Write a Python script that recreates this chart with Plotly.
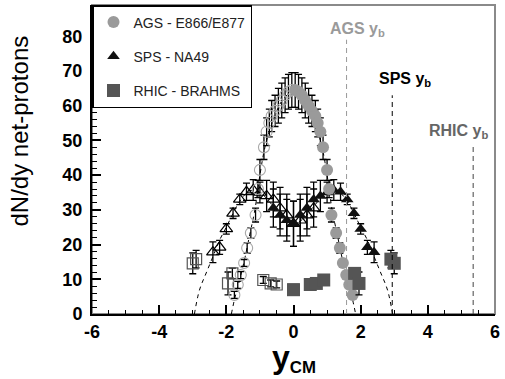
import plotly.graph_objects as go

# ---- AGS E866/E877 (measured, forward hemisphere) ----
ags_y = [0.05, 0.15, 0.25, 0.35, 0.45, 0.55, 0.65, 0.72, 0.80, 0.88,
         1.00, 1.06, 1.13, 1.27, 1.38, 1.47, 1.57, 1.66, 1.76]
ags_dndy = [64.5, 64.0, 63.0, 61.5, 60.0, 58.5, 57.0, 55.0, 52.5, 48.0,
            41.5, 36.0, 28.5, 23.3, 19.0, 14.7, 11.2, 8.4, 5.5]
ags_err = [5.0, 5.0, 5.0, 5.0, 5.0, 4.5, 4.5, 4.0, 4.0, 3.5,
           3.0, 2.5, 2.0, 1.5, 1.5, 1.0, 1.0, 1.0, 1.0]

# ---- SPS NA49 ----
na49_y = [-0.6, -0.4, -0.2, 0.0, 0.2, 0.4, 0.6, 0.8, 1.0, 1.2,
          1.4, 1.6, 1.8, 2.0, 2.2, 2.4]
na49_dndy = [30.5, 28.5, 27.0, 26.0, 28.5, 30.5, 33.0, 34.0, 35.0, 35.7,
             35.2, 33.0, 29.0, 24.5, 19.2, 17.8]
na49_err = [5.5, 6.0, 6.0, 6.5, 6.0, 6.0, 5.0, 4.5, 3.0, 3.0,
            2.5, 1.5, 1.5, 1.5, 2.0, 3.0]

# ---- RHIC BRAHMS ----
brahms_y = [0.0, 0.5, 0.68, 0.9, 1.82, 1.95, 2.9, 3.0]
brahms_dndy = [7.0, 8.5, 8.8, 9.8, 11.7, 8.8, 15.8, 14.6]
brahms_err = [1.0, 1.0, 1.0, 1.0, 1.5, 3.3, 2.5, 3.0]

# ---- fitted shapes (dashed) ----
ags_fit_y = [-1.85, -1.75, -1.6, -1.45, -1.3, -1.15, -1.0, -0.85, -0.6, -0.3, 0.0,
             0.3, 0.6, 0.85, 1.0, 1.15, 1.3, 1.45, 1.6, 1.75, 1.85]
ags_fit_dndy = [0.0, 4.5, 10.0, 16.0, 23.0, 30.0, 40.0, 48.0, 56.0, 62.0, 64.0,
                62.0, 56.0, 48.0, 40.0, 30.0, 23.0, 16.0, 10.0, 4.5, 0.0]
sps_fit_y = [-2.95, -2.8, -2.6, -2.4, -2.2, -2.0, -1.8, -1.6, -1.3, -1.0, -0.6, -0.3, 0.0,
             0.3, 0.6, 1.0, 1.3, 1.6, 1.8, 2.0, 2.2, 2.4, 2.6, 2.8, 2.95]
sps_fit_dndy = [0.0, 6.9, 11.8, 16.5, 21.3, 25.0, 29.0, 32.5, 35.5, 35.0, 31.0, 27.5, 26.0,
                27.5, 31.0, 35.0, 35.5, 32.5, 29.0, 25.0, 21.3, 16.5, 11.8, 6.9, 0.0]

# ---- beam rapidities ----
beam_names = ["AGS", "SPS", "RHIC"]
beam_rapidity = [1.58, 2.94, 5.35]

x_ticks = [-6, -4, -2, 0, 2, 4, 6]
y_ticks = [0, 10, 20, 30, 40, 50, 60, 70, 80]

AGS_GRAY = "#9a9a9a"
RHIC_GRAY = "#555555"
FONT = "Liberation Sans, Arial"


def mirror(vals):
    return [-v for v in vals]


def errs(e):
    return dict(type="data", array=e, visible=True, color="black",
                thickness=1.3, width=3.5)


fig = go.Figure()

# dashed fit curves
for fx, fy in ((ags_fit_y, ags_fit_dndy), (sps_fit_y, sps_fit_dndy)):
    fig.add_trace(go.Scatter(x=fx, y=fy, mode="lines",
                             line=dict(color="black", width=1, dash="4px,4px",
                                       shape="spline"),
                             showlegend=False, hoverinfo="skip"))

# reflected (open) points
fig.add_trace(go.Scatter(x=mirror(brahms_y), y=brahms_dndy, error_y=errs(brahms_err),
                         mode="markers", showlegend=False,
                         marker=dict(symbol="square-open", size=11, color=RHIC_GRAY,
                                     line=dict(width=1.2, color=RHIC_GRAY))))
fig.add_trace(go.Scatter(x=mirror(na49_y), y=na49_dndy, error_y=errs(na49_err),
                         mode="markers", showlegend=False,
                         marker=dict(symbol="triangle-up-open", size=11, color="black",
                                     line=dict(width=1.2, color="black"))))
fig.add_trace(go.Scatter(x=mirror(ags_y), y=ags_dndy, error_y=errs(ags_err),
                         mode="markers", showlegend=False,
                         marker=dict(symbol="circle-open", size=11, color="#a8a8a8",
                                     line=dict(width=1.1, color="#a8a8a8"))))

# measured (filled) points
fig.add_trace(go.Scatter(x=na49_y, y=na49_dndy, error_y=errs(na49_err),
                         mode="markers", name="SPS - NA49", legendgroup="b",
                         legendrank=2,
                         marker=dict(symbol="triangle-up", size=11, color="#111111")))
fig.add_trace(go.Scatter(x=ags_y, y=ags_dndy, error_y=errs(ags_err),
                         mode="markers", name="AGS - E866/E877", legendgroup="a",
                         legendrank=1,
                         marker=dict(symbol="circle", size=12, color=AGS_GRAY)))
fig.add_trace(go.Scatter(x=brahms_y, y=brahms_dndy, error_y=errs(brahms_err),
                         mode="markers", name="RHIC - BRAHMS", legendgroup="c",
                         legendrank=3,
                         marker=dict(symbol="square", size=13, color=RHIC_GRAY)))

# beam rapidity markers
line_tops = [79, 63, 49]
label_pos = [(1.92, 82.0), (3.31, 67.5), (4.9, 52.5)]
label_cols = [AGS_GRAY, "black", "#666666"]
line_cols = [AGS_GRAY, "black", "#444444"]
for name, yb, top, (lx, ly), col, lcol in zip(beam_names, beam_rapidity, line_tops,
                                             label_pos, label_cols, line_cols):
    fig.add_shape(type="line", x0=yb, x1=yb, y0=0, y1=top, xref="x", yref="y",
                  line=dict(color=lcol, width=1, dash="5px,4px"))
    fig.add_annotation(x=lx, y=ly, xref="x", yref="y", showarrow=False,
                       text=f"<b>{name} y<sub>b</sub></b>",
                       font=dict(family=FONT, size=16, color=col))

# plot frame
fig.add_shape(type="rect", xref="x domain", yref="y domain", x0=0, x1=1, y0=0, y1=1,
              line=dict(color="#8a8a8a", width=2), layer="below")

# axis titles
fig.add_annotation(xref="paper", yref="paper", x=-0.18, y=0.592, textangle=-90,
                   xanchor="center", yanchor="middle",
                   text="dN/dy net-protons", showarrow=False,
                   font=dict(family=FONT, size=24, color="black"))
fig.add_annotation(xref="paper", yref="paper", x=0.5, y=-0.075, yanchor="top",
                   xanchor="center",
                   text='<b><span style="font-size:32px">y</span><sub>CM</sub></b>',
                   showarrow=False,
                   font=dict(family=FONT, size=24, color="black"))

tickfont = dict(family=FONT, size=18, color="black")

fig.update_xaxes(range=[-6, 6], tickvals=x_ticks,
                 ticktext=[f"<b>{v}</b>" for v in x_ticks],
                 ticks="inside", ticklen=9, tickwidth=1.5, tickcolor="black",
                 minor=dict(dtick=0.5, ticks="inside", ticklen=4.5, tickwidth=1.2,
                            tickcolor="black"),
                 showline=True, linecolor="black", linewidth=2,
                 showgrid=False, zeroline=False, tickfont=tickfont)
fig.update_yaxes(range=[0, 89], tickvals=y_ticks,
                 ticktext=[f"<b>{v}</b>" for v in y_ticks],
                 ticks="inside", ticklen=9, tickwidth=1.5, tickcolor="black",
                 minor=dict(dtick=2, ticks="inside", ticklen=4.5, tickwidth=1.2,
                            tickcolor="black"),
                 showline=True, linecolor="black", linewidth=2,
                 showgrid=False, zeroline=False, tickfont=tickfont,
                 ticklabelstandoff=4)

fig.update_layout(
    width=505, height=379,
    margin=dict(l=92, r=7, t=5, b=65),
    paper_bgcolor="white", plot_bgcolor="white",
    font=dict(family=FONT, color="black"),
    legend=dict(x=0, y=1, xanchor="left", yanchor="top",
                bgcolor="white", bordercolor="black", borderwidth=1.5,
                font=dict(family=FONT, size=14, color="#222222"),
                tracegroupgap=13, itemwidth=30),
)

fig.write_html("out.html")
